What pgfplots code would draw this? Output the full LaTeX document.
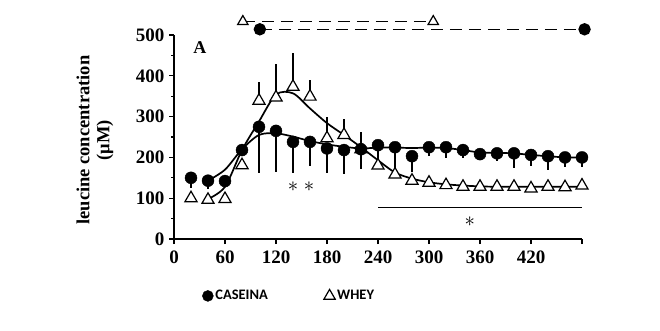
\documentclass[border=0pt]{standalone}
\usepackage{pgfplots}
\pgfplotsset{compat=1.18}
\usepackage{pgfplotstable}
\usepackage{fontspec}
\setmainfont{Liberation Serif}
\newfontfamily\legfont{Carlito}
\pgfplotstableread{
t y em
20 150 25
40 143 20
60 142 15
80 218 0
100 275 112
120 265 100
140 238 75
160 238 58
180 222 59
200 218 59
220 220 49
240 230 40
260 225 63
280 203 38
300 225 22
320 225 27
340 218 20
360 208 10
380 210 20
400 210 37
420 206 27
440 203 34
460 200 24
480 200 24
}\caseina
\pgfplotstableread{
t y ep
20 100 0
40 96 0
60 98 0
80 181 0
100 339 47
120 347 82
140 373 84
160 349 41
180 247 53
200 255 38
220 220 43
240 180 0
260 158 0
280 143 0
300 138 0
320 132 0
340 128 0
360 128 0
380 128 0
400 128 0
420 124 0
440 128 0
460 127 0
480 131 0
}\whey
\begin{document}
\begin{tikzpicture}
\useasboundingbox (-174pt,-91pt) rectangle (486pt,239pt);
\begin{axis}[
  scale only axis, width=408pt, height=204pt,
  at={(0pt,0pt)}, anchor=south west,
  xmin=0, xmax=480, ymin=0, ymax=500,
  axis x line*=bottom, axis y line*=left,
  clip=false,
  xtick={0,60,...,480}, xticklabels={0,60,120,180,240,300,360,420,},
  ytick={0,100,...,500}, minor ytick={50,150,...,450},
  tick align=outside, major tick length=5pt, minor tick length=3pt,
  tick style={line width=1.1pt, black},
  axis line style={line width=1.3pt},
  /pgf/number format/assume math mode=true,
  ticklabel style={font=\fontsize{19}{19}\selectfont\bfseries},
  xticklabel style={yshift=-3pt},
  yticklabel style={xshift=-1pt},
  legend style={draw=none, fill=none, at={(0.069,-0.279)}, anchor=west,
    font=\legfont\bfseries\fontsize{14.5}{14.5}\selectfont,
    inner sep=0pt, nodes={inner sep=2pt}},
  legend columns=2,
  /tikz/every even column/.append style={column sep=54pt},
  legend image code/.code={\draw[#1] plot coordinates {(6pt,0pt)};},
]
% fitted curves
\addplot[line width=1.7pt, smooth, tension=0.5, forget plot] coordinates {
(40,143) (60,170) (80,220) (100,255) (120,259) (140,251) (160,240) (180,232)
(200,226) (220,222) (240,224) (260,224) (280,223) (300,224) (320,223) (340,218)
(360,212) (380,211) (400,210) (420,206) (440,203) (460,200) (480,200)};
\addplot[line width=1.7pt, smooth, tension=0.5, forget plot] coordinates {
(40,98) (60,128) (80,218) (100,288) (120,354) (140,357) (160,320) (180,284)
(200,255) (220,225) (240,193) (260,163) (280,148) (300,139) (320,134) (340,131)
(360,129) (380,128) (400,128) (420,128) (440,128) (460,128) (480,128)};
% whey
\addplot[forget plot, only marks, mark=triangle*, mark size=7pt,
  mark options={fill=white, draw=black, line width=1.2pt},
  error bars/.cd, y dir=plus, y explicit, error mark=none,
  error bar style={line width=1.3pt, black}]
  table[x=t, y=y, y error plus=ep] {\whey};
% caseina
\addplot[forget plot, only marks, mark=*, mark size=6pt, mark options={fill=black, draw=black},
  error bars/.cd, y dir=minus, y explicit, error mark=none,
  error bar style={line width=1.3pt, black}]
  table[x=t, y=y, y error minus=em] {\caseina};
% dashed duration lines above the axis
\addplot[forget plot, line width=1.4pt, dash pattern=on 12pt off 7pt, mark=triangle*, mark size=6pt,
  mark options={solid, fill=white, draw=black, line width=1.2pt}]
  coordinates {(81,533) (305,533)};
\addplot[forget plot, line width=1.4pt, dash pattern=on 12pt off 7pt, mark=*, mark size=5.5pt,
  mark options={solid, fill=black}]
  coordinates {(101,514) (483,514)};
% significance line
\addplot[forget plot, line width=1.3pt] coordinates {(240,78) (480,78)};
% legend entries
\addlegendimage{only marks, mark=*, mark size=5.5pt, mark options={fill=black}}
\addlegendentry{CASEINA}
\addlegendimage{only marks, mark=triangle, mark size=6.5pt, mark options={line width=1.2pt}}
\addlegendentry{WHEY}
% annotations
\node[font=\fontsize{18}{18}\selectfont\bfseries] at (axis cs:30.5,469) {A};
\node[font=\fontsize{20}{20}\selectfont] at (axis cs:140,128) {$\ast$};
\node[font=\fontsize{20}{20}\selectfont] at (axis cs:159,128) {$\ast$};
\node[font=\fontsize{20}{20}\selectfont] at (axis cs:348,43) {$\ast$};
\node[xshift=-79pt, rotate=90, align=center, font=\fontsize{18.5}{20}\selectfont\bfseries]
  at (axis description cs:0,0.485) {leucine concentration\\(μM)};
\end{axis}
\end{tikzpicture}
\end{document}
